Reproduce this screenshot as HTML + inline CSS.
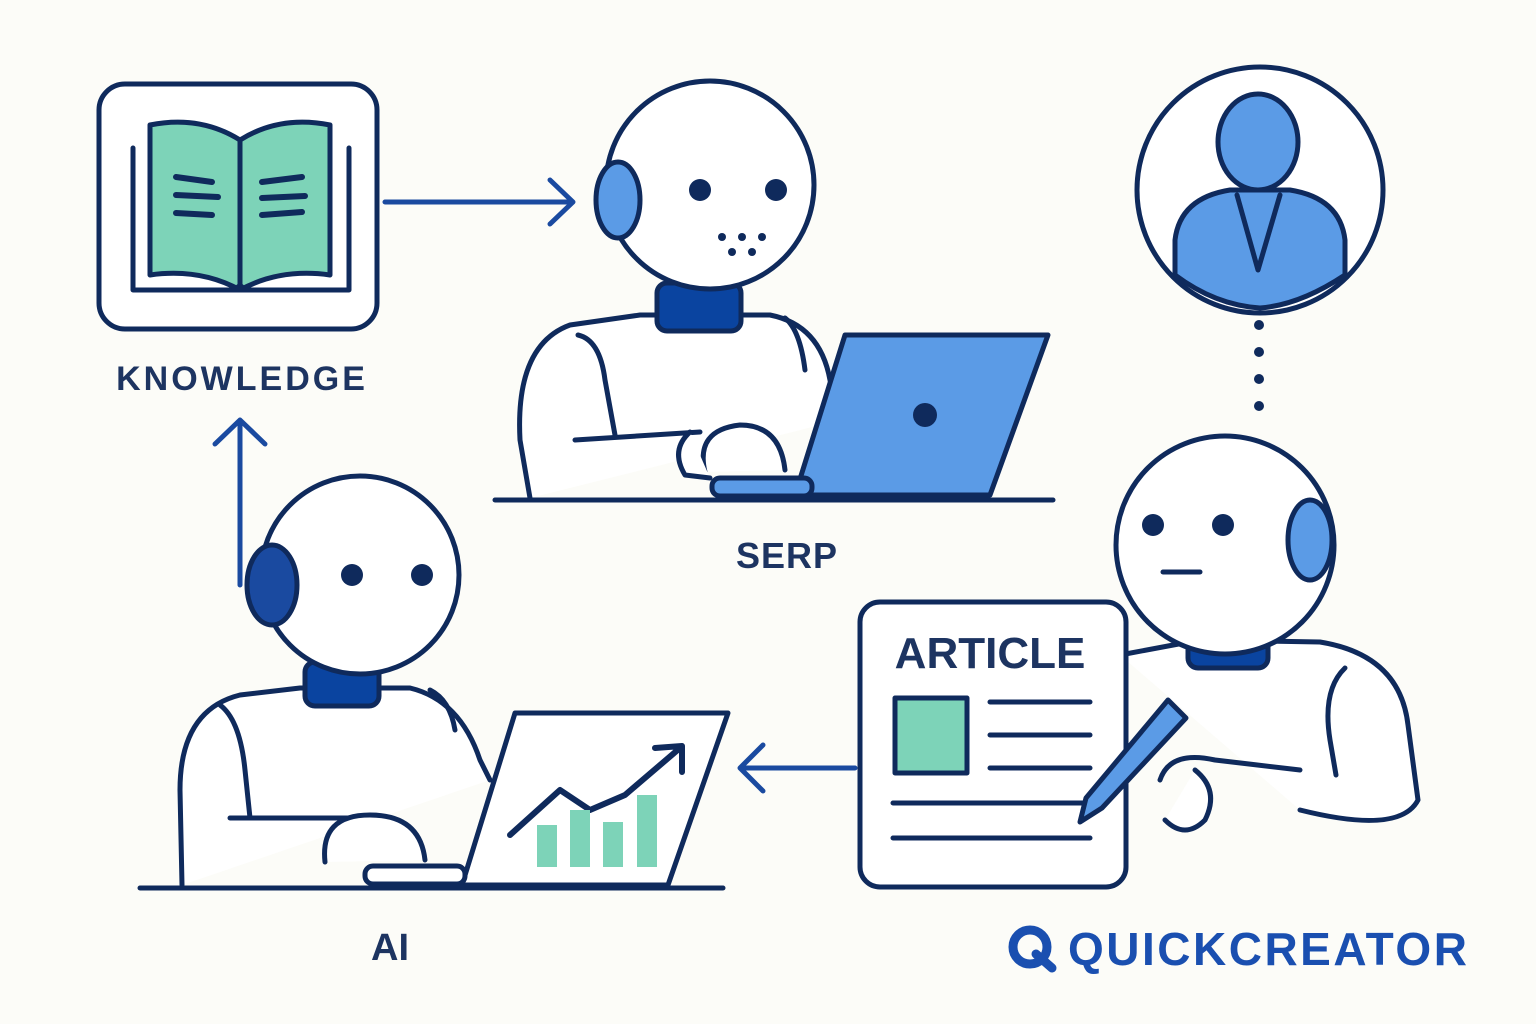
<!DOCTYPE html>
<html><head><meta charset="utf-8"><style>
html,body{margin:0;padding:0;background:#fcfcf8;}
svg{display:block}
text{font-family:"Liberation Sans",sans-serif;font-weight:bold;}
</style></head><body>
<svg width="1536" height="1024" viewBox="0 0 1536 1024" xmlns="http://www.w3.org/2000/svg">
<rect width="1536" height="1024" fill="#fcfcf8"/>
<g fill="none" stroke="#0f2a5c" stroke-width="5" stroke-linecap="round" stroke-linejoin="round">
<!-- Knowledge box -->
<rect x="99" y="84" width="278" height="245" rx="26" fill="#fff"/>
<path d="M133 148 L133 290 L232 290 L250 290 L349 290 L349 148" />
<path d="M150 125 Q200 115 240 140 L240 290 Q200 268 150 275 Z" fill="#7dd3b8"/>
<path d="M330 125 Q280 115 240 140 L240 290 Q280 268 330 275 Z" fill="#7dd3b8"/>
<path d="M176 177 L212 182 M176 195 L218 197 M176 213 L212 215 M262 182 L302 177 M262 198 L305 196 M262 215 L302 212" stroke-width="6"/>
<!-- arrow to SERP -->
<path d="M385 202 L572 202 M550 180 L573 202 L550 224" stroke="#1a4aa0"/>
<!-- up arrow -->
<path d="M240 585 L240 420 M215 444 L240 420 L265 444" stroke="#1a4aa0"/>

<!-- SERP robot -->
<path d="M530 498 L520 440 Q515 345 570 325 L640 315 L770 315 Q820 325 830 380 L840 420" fill="#fff"/>
<path d="M578 335 Q600 340 605 380 L615 435" />
<path d="M785 318 Q800 330 805 370" />
<rect x="657" y="283" width="84" height="48" rx="10" fill="#0a44a0"/>
<circle cx="710" cy="185" r="104" fill="#fff"/>
<ellipse cx="618" cy="200" rx="22" ry="38" fill="#5b9be6"/>
<path d="M845 335 L1048 335 L990 495 L795 495 Z" fill="#5b9be6"/>
<circle cx="925" cy="415" r="12" fill="#0f2a5c" stroke="none"/>
<path d="M575 440 L700 432" />
<rect x="712" y="478" width="100" height="18" rx="8" fill="#5b9be6"/>
<path d="M705 472 Q695 430 740 425 Q780 425 785 470" fill="#fff"/>
<path d="M690 432 Q670 450 685 475 L710 478" fill="#fff"/>
<path d="M495 500 L1053 500"/>

<!-- user circle -->
<circle cx="1260" cy="190" r="123" fill="#fff"/>
<ellipse cx="1258" cy="142" rx="40" ry="48" fill="#5b9be6"/>
<path d="M1175 275 L1175 240 Q1180 198 1230 190 L1290 190 Q1340 198 1345 240 L1345 275 Q1300 305 1260 308 Q1215 305 1175 275 Z" fill="#5b9be6"/>
<path d="M1237 195 L1258 270 L1280 195"/>

<!-- right robot -->
<path d="M1120 655 L1200 640 L1320 642 Q1400 655 1408 725 L1418 800 Q1400 835 1300 810" fill="#fff"/>
<path d="M1345 668 Q1322 690 1330 740 L1336 775"/>
<path d="M1160 780 Q1170 750 1215 760 L1300 770"/>
<path d="M1195 770 Q1220 790 1205 820 Q1185 840 1165 820" fill="#fff"/>
<rect x="1188" y="628" width="80" height="40" rx="10" fill="#0a44a0"/>
<circle cx="1225" cy="545" r="109" fill="#fff"/>
<ellipse cx="1310" cy="540" rx="22" ry="40" fill="#5b9be6"/>
<path d="M1163 572 L1200 572"/>

<!-- article card -->
<rect x="860" y="602" width="266" height="285" rx="20" fill="#fff"/>
<rect x="895" y="698" width="72" height="75" fill="#7dd3b8"/>
<path d="M990 702 L1090 702 M990 735 L1090 735 M990 768 L1090 768 M893 803 L1090 803 M893 838 L1090 838"/>
<path d="M1168 700 L1186 718 L1102 808 L1080 822 L1086 798 Z" fill="#5b9be6"/>
<!-- arrow left -->
<path d="M855 768 L740 768 M763 745 L740 768 L763 791" stroke="#1a4aa0"/>

<!-- AI robot -->
<path d="M182 885 L180 790 Q180 710 240 695 L300 688 L410 688 Q460 700 480 760 L490 780" fill="#fff"/>
<path d="M220 705 Q240 720 245 770 L250 818"/>
<path d="M430 690 Q450 700 455 730"/>
<path d="M230 818 L350 818"/>
<rect x="305" y="662" width="74" height="44" rx="10" fill="#0a44a0"/>
<circle cx="360" cy="575" r="99" fill="#fff"/>
<ellipse cx="272" cy="585" rx="25" ry="40" fill="#1a4aa0"/>
<path d="M515 713 L728 713 L668 885 L462 885 Z" fill="#fff"/>
<path d="M325 862 Q320 815 370 815 Q420 815 425 860" fill="#fff"/>
<rect x="365" y="866" width="100" height="18" rx="8" fill="#fff"/>
<path d="M510 835 L560 790 L590 810 L625 795 L680 748 M655 748 L682 746 L682 772" stroke-width="6"/>
<path d="M140 888 L723 888"/>
</g>
<g fill="#7dd3b8">
<rect x="537" y="825" width="20" height="42"/><rect x="570" y="810" width="20" height="57"/>
<rect x="603" y="822" width="20" height="45"/><rect x="637" y="795" width="20" height="72"/>
</g>
<g fill="#0f2a5c">
<circle cx="700" cy="190" r="11"/><circle cx="776" cy="190" r="11"/>
<circle cx="722" cy="237" r="4"/><circle cx="742" cy="237" r="4"/><circle cx="762" cy="237" r="4"/>
<circle cx="732" cy="252" r="4"/><circle cx="752" cy="252" r="4"/>
<circle cx="1153" cy="525" r="11"/><circle cx="1223" cy="525" r="11"/>
<circle cx="352" cy="575" r="11"/><circle cx="422" cy="575" r="11"/>
<circle cx="1259" cy="325" r="5"/><circle cx="1259" cy="352" r="5"/><circle cx="1259" cy="379" r="5"/><circle cx="1259" cy="406" r="5"/>
<path d="M228 292 L240 282 L252 292 Z"/>
</g>
<g fill="#1d3461">
<text x="242" y="390" font-size="34" text-anchor="middle" letter-spacing="3">KNOWLEDGE</text>
<text x="787" y="568" font-size="36" text-anchor="middle" letter-spacing="1">SERP</text>
<text x="390" y="960" font-size="38" text-anchor="middle">AI</text>
<text x="990" y="668" font-size="44" text-anchor="middle">ARTICLE</text>
</g>
<circle cx="1030" cy="947" r="17" fill="none" stroke="#1a4fb0" stroke-width="9"/>
<path d="M1036 954 L1052 968" stroke="#1a4fb0" stroke-width="9" stroke-linecap="round"/>
<text x="1068" y="965" font-size="46" fill="#1a4fb0" letter-spacing="2.5">QUICKCREATOR</text>
</svg>
</body></html>
